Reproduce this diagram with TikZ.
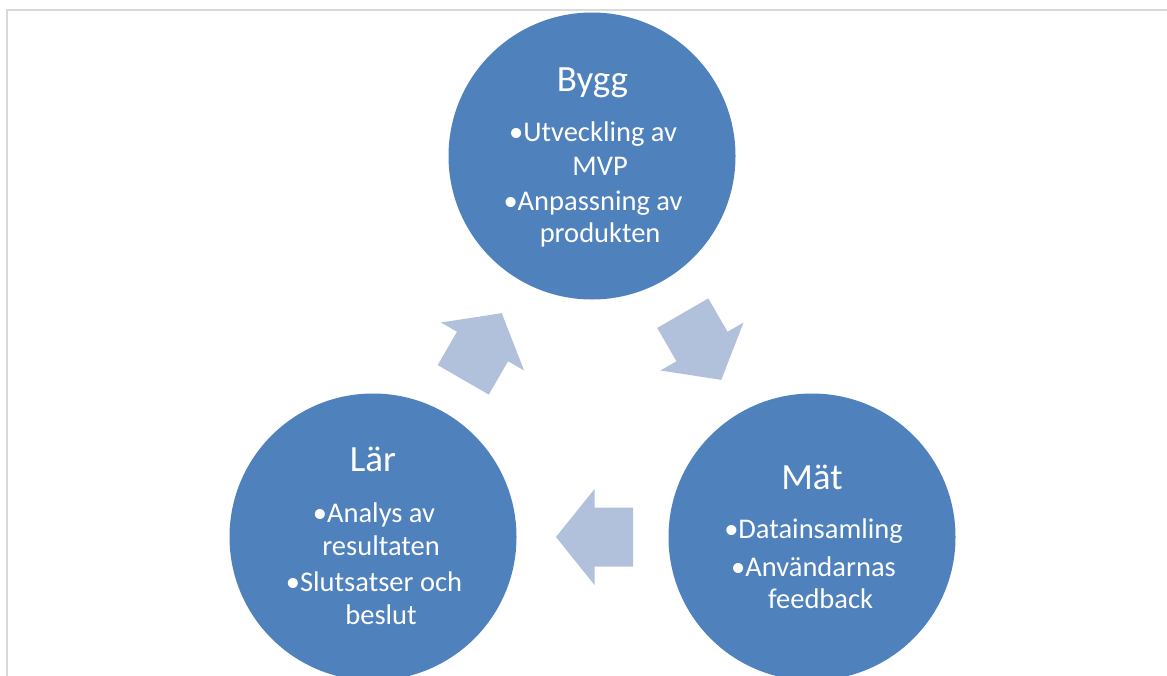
\documentclass[tikz,border=0pt]{standalone}
\usepackage{fontspec}
\setmainfont{Carlito}
\usetikzlibrary{calc}
\definecolor{circblue}{HTML}{4F81BD}
\definecolor{arrblue}{HTML}{B2C1DB}
\definecolor{framegray}{HTML}{D9D9D9}
\tikzset{
  phase/.style={circle, fill=circblue, draw=none, minimum size=287pt, inner sep=0pt},
  ttl/.style={anchor=base, text=white, font=\fontsize{37}{40}\selectfont, inner sep=0pt},
  itm/.style={anchor=base, text=white, font=\fontsize{28.5}{32}\selectfont, inner sep=0pt},
  cyclearrow/.pic={
    \fill[arrblue] (-38.5,-29.5) -- (0,-29.5) -- (0,-48) -- (38.5,0) -- (0,48) -- (0,29.5) -- (-38.5,29.5) -- cycle;
  }
}
\begin{document}
\begin{tikzpicture}[x=1pt,y=-1pt]
\useasboundingbox (0,0) rectangle (1167,675);
\clip (0,0) rectangle (1167,675);
\draw[framegray, line width=2pt] (6.5,676) -- (6.5,9.5) -- (1168,9.5);

\node[phase] (bygg) at (592,156) {};
\node[phase] (mat) at (812,537) {};
\node[phase] (lar) at (373,537) {};

% Bygg
\node[ttl] (byggT) at ($(bygg)+(0.5,-64.3)$) {Bygg};
\node[itm] (bygg1) at ($(bygg)+(1,-14.3)$) {•Utveckling av};
\node[itm] (bygg2) at ($(bygg)+(1,19)$) {\hphantom{•}MVP};
\node[itm] (bygg3) at ($(bygg)+(1,54.7)$) {•Anpassning av};
\node[itm] (bygg4) at ($(bygg)+(1,86)$) {\hphantom{•}produkten};

% Lär
\node[ttl] (larT) at ($(lar)+(0,-65.3)$) {Lär};
\node[itm] (lar1) at ($(lar)+(1,-14.3)$) {•Analys av};
\node[itm] (lar2) at ($(lar)+(1,18)$) {\hphantom{•}resultaten};
\node[itm] (lar3) at ($(lar)+(1,54.7)$) {•Slutsatser och};
\node[itm] (lar4) at ($(lar)+(1,87)$) {\hphantom{•}beslut};

% Mät
\node[ttl] (matT) at ($(mat)+(0,-47.7)$) {Mät};
\node[itm] (mat1) at ($(mat)+(1.5,1.3)$) {•Datainsamling};
\node[itm] (mat2) at ($(mat)+(1.5,39.7)$) {•Användarnas};
\node[itm] (mat3) at ($(mat)+(1.5,71.3)$) {\hphantom{•}feedback};

% cycle arrows
\pic[rotate=-60] at ($(bygg)!0.5!(mat)$) {cyclearrow};
\pic[rotate=180] at ($(mat)!0.5!(lar)+(2,0)$) {cyclearrow};
\pic[rotate=60] at ($(lar)!0.5!(bygg)$) {cyclearrow};
\end{tikzpicture}
\end{document}
